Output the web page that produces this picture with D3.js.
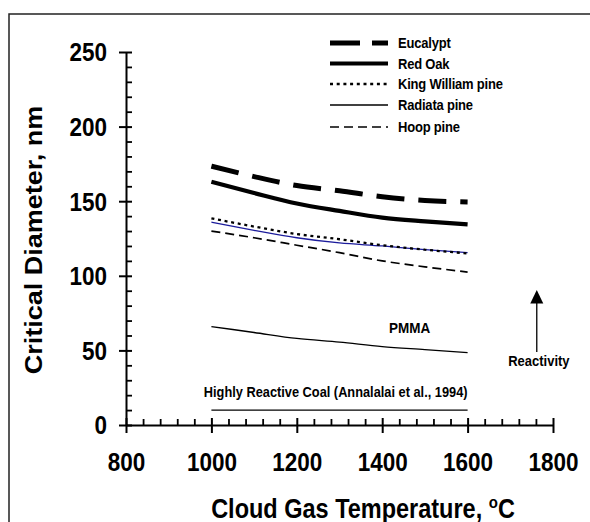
<!DOCTYPE html>
<html>
<head>
<meta charset="utf-8">
<script src="https://cdn.jsdelivr.net/npm/d3@7"></script>
<style>
  html, body { margin: 0; padding: 0; background: #fff; }
  svg { display: block; }
  text { font-family: "Liberation Sans", Arial, sans-serif; font-weight: bold; fill: #000; }
</style>
</head>
<body>
<svg id="chart" width="590" height="522"></svg>
<script>
// ---------------- data ----------------
const temperatures = [1000, 1100, 1200, 1300, 1400, 1500, 1600];
const eucalypt     = [173.5, 166.5, 160.5, 157, 153, 150.5, 149.5];
const redOak       = [163, 155.5, 148.5, 143.5, 139, 136.5, 134.5];
const kingWilliam  = [138.5, 133, 128, 124.5, 120.5, 117.5, 115];
const radiata      = [136, 130.5, 125.5, 122, 120, 117.5, 115.5];
const hoop         = [130, 125.5, 120.5, 115.5, 110, 106, 102.5];
const pmma         = [66, 62, 58, 55.5, 52.5, 50.5, 48.5];
const coal         = [10, 10, 10, 10, 10, 10, 10];

const legendNames = ["Eucalypt", "Red Oak", "King William pine", "Radiata pine", "Hoop pine"];
const xTicks = [800, 1000, 1200, 1400, 1600, 1800];
const yTicks = [0, 50, 100, 150, 200, 250];

// ---------------- styles ----------------
const styles = {
  "Eucalypt":          { width: 5,   dash: "28,14",   color: "#000", legendColor: "#000" },
  "Red Oak":           { width: 4.2, dash: null,      color: "#000", legendColor: "#000" },
  "King William pine": { width: 2.3, dash: "3,3.7",   color: "#000", legendColor: "#000" },
  "Radiata pine":      { width: 1.3, dash: null,      color: "#1c1c9c", legendColor: "#000" },
  "Hoop pine":         { width: 1.7, dash: "9,5",     color: "#000", legendColor: "#000" },
  "PMMA":              { width: 1.3, dash: null,      color: "#000" },
  "Coal":              { width: 1.1, dash: null,      color: "#000" }
};
const seriesData = {
  "Eucalypt": eucalypt, "Red Oak": redOak, "King William pine": kingWilliam,
  "Radiata pine": radiata, "Hoop pine": hoop, "PMMA": pmma, "Coal": coal
};
const drawOrder = ["Coal", "PMMA", "Hoop pine", "Radiata pine", "King William pine", "Red Oak", "Eucalypt"];

const SY = 1.15; // vertical stretch of text in the reference

const svg = d3.select("#chart");

// frame
svg.append("path")
  .attr("d", "M9,530V14H600")
  .attr("fill", "none").attr("stroke", "#222").attr("stroke-width", 1.5);

const x = d3.scaleLinear().domain([800, 1800]).range([126, 553]);
const y = d3.scaleLinear().domain([0, 250]).range([425, 52]);

function label(sel, tx, ty, str, size, anchor) {
  return sel.append("text")
    .attr("transform", `translate(${tx},${ty}) scale(1,${SY})`)
    .attr("text-anchor", anchor || "middle")
    .style("font-size", size + "px")
    .text(str);
}

// minor ticks
const xMinor = d3.range(800, 1801, 40).filter(v => !xTicks.includes(v));
const yMinor = d3.range(0, 251, 10).filter(v => !yTicks.includes(v));

const gxMinor = svg.append("g").attr("transform", `translate(0,${y(0)})`)
  .call(d3.axisBottom(x).tickValues(xMinor).tickSize(-6).tickFormat(""));
gxMinor.select(".domain").remove();
gxMinor.selectAll("line").attr("stroke-width", 1.8);

const gyMinor = svg.append("g").attr("transform", `translate(${x(800)},0)`)
  .call(d3.axisLeft(y).tickValues(yMinor).tickSize(-6).tickFormat(""));
gyMinor.select(".domain").remove();
gyMinor.selectAll("line").attr("stroke-width", 1.8);

// major axes
const gx = svg.append("g").attr("transform", `translate(0,${y(0)})`)
  .call(d3.axisBottom(x).tickValues(xTicks).tickSizeOuter(0).tickFormat(d3.format("d")));
gx.select(".domain").attr("stroke-width", 2);
gx.selectAll(".tick line").attr("y1", -7).attr("y2", 8).attr("stroke-width", 2);
gx.selectAll(".tick text")
  .attr("y", 46 / SY).attr("dy", 0)
  .attr("transform", `scale(1,${SY})`)
  .style("font-size", "22.5px").style("font-family", "'Liberation Sans', Arial, sans-serif").style("font-weight", "bold");

const gy = svg.append("g").attr("transform", `translate(${x(800)},0)`)
  .call(d3.axisLeft(y).tickValues(yTicks).tickSizeOuter(0).tickFormat(d3.format("d")));
gy.select(".domain").attr("stroke-width", 2);
gy.selectAll(".tick line").attr("x1", 6).attr("x2", -7).attr("stroke-width", 2);
gy.selectAll(".tick text")
  .attr("x", -19).attr("dy", "0.34em")
  .attr("transform", `scale(1,${SY})`)
  .style("font-size", "22.5px").style("font-family", "'Liberation Sans', Arial, sans-serif").style("font-weight", "bold");
// scale(1,SY) inside a tick group: compensate y position
gy.selectAll(".tick").each(function(d) {
  d3.select(this).select("text").attr("transform", null)
    .attr("transform", `scale(1,${SY})`).attr("y", 0);
});

// axis titles
label(svg, 363, 518, "", 23.5).call(t => {
  t.append("tspan").text("Cloud Gas Temperature, ");
  t.append("tspan").attr("dy", -9).style("font-size", "15px").text("o");
  t.append("tspan").attr("dy", 9).text("C");
});
svg.append("text")
  .attr("transform", `translate(42,240) scale(1,${SY}) rotate(-90)`)
  .attr("text-anchor", "middle")
  .style("font-size", "23.5px")
  .text("Critical Diameter, nm");

// series lines
const line = d3.line().x((d, i) => x(temperatures[i])).y(d => y(d)).curve(d3.curveMonotoneX);
drawOrder.forEach(name => {
  const s = styles[name];
  svg.append("path")
    .datum(seriesData[name])
    .attr("d", line)
    .attr("fill", "none")
    .attr("stroke", s.color)
    .attr("stroke-width", s.width)
    .attr("stroke-dasharray", s.dash)
    .attr("stroke-linecap", "butt");
});

// legend
const legendLineY = [43, 63.5, 84, 105, 127];
const legendTextY = [48, 68.5, 89, 110, 132];
legendNames.forEach((name, i) => {
  const s = styles[name];
  svg.append("line")
    .attr("x1", 330).attr("x2", 388)
    .attr("y1", legendLineY[i]).attr("y2", legendLineY[i])
    .attr("stroke", s.legendColor).attr("stroke-width", s.width)
    .attr("stroke-dasharray", name === "Eucalypt" ? "30,12" : s.dash);
  label(svg, 398, legendTextY[i], name, 13, "start").style("letter-spacing", "-0.2px");
});

// annotations
label(svg, x(1464), 332.5, "PMMA", 13.5);
label(svg, x(1291), 397, "Highly Reactive Coal (Annalalai et al., 1994)", 12.8);
label(svg, x(1767), 365.5, "Reactivity", 13);

// arrow
const ax = x(1762);
svg.append("line")
  .attr("x1", ax).attr("x2", ax)
  .attr("y1", y(49)).attr("y2", y(83))
  .attr("stroke", "#000").attr("stroke-width", 1.3);
svg.append("path")
  .attr("d", `M${ax},${y(90.5)}L${ax - 6.5},${y(81.5)}L${ax + 6.5},${y(81.5)}Z`)
  .attr("fill", "#000");
</script>
</body>
</html>
